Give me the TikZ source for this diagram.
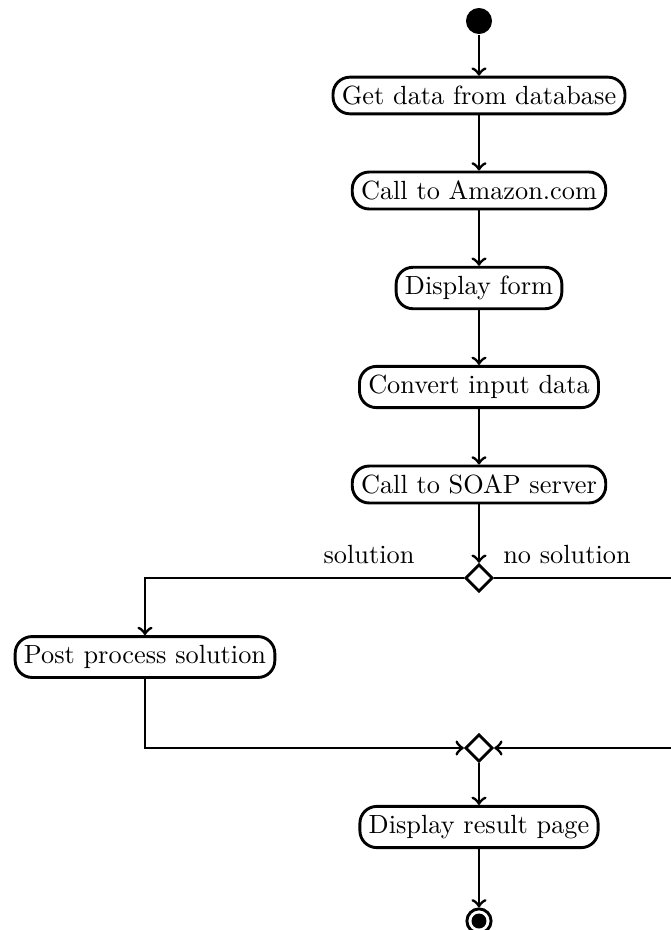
\documentclass[tikz,border=0pt]{standalone}
\usetikzlibrary{shapes.geometric}
\begin{document}
\begin{tikzpicture}[x=0.3802pt,y=-0.3802pt, line width=1.1pt,
  act/.style={draw, rounded corners=6.4pt},
  dec/.style={draw, diamond, inner sep=0pt, minimum size=10.4pt},
  flow/.style={->},
  lbl/.style={inner sep=0pt}]
\useasboundingbox (0,0) rectangle (671,930);
\node[circle, fill, inner sep=0pt, minimum size=9.9pt] (start) at (479,21) {};
\node[act] (a1) at (479,95.5) {Get data from database};
\node[act] (a2) at (479,190.5) {Call to Amazon.com};
\node[act] (a3) at (479,288) {Display form};
\node[act] (a4) at (479,387) {Convert input data};
\node[act] (a5) at (479,484.5) {Call to SOAP server};
\node[dec] (d1) at (479,578) {};
\node[act] (post) at (145,657) {Post process solution};
\node[dec] (d2) at (479,748) {};
\node[act] (a6) at (479,827) {Display result page};
\node[circle, draw, inner sep=0pt, minimum size=9.2pt] (end) at (479,921) {};
\fill (end.center) circle (2.85pt);
\node[lbl] (ls) at (369,555) {solution};
\node[lbl] (lns) at (567,555) {no solution};
\coordinate (cl1) at (145,578);
\coordinate (cl2) at (145,748);
\coordinate (cr1) at (673,578);
\coordinate (cr2) at (673,748);
\draw[flow] (start) -- (a1);
\draw[flow] (a1) -- (a2);
\draw[flow] (a2) -- (a3);
\draw[flow] (a3) -- (a4);
\draw[flow] (a4) -- (a5);
\draw[flow] (a5) -- (d1);
\draw[flow] (d1.west) -- (cl1) -- (post);
\draw[flow] (d1.east) -- (cr1) -- (cr2) -- (d2.east);
\draw[flow] (post) -- (cl2) -- (d2.west);
\draw[flow] (d2) -- (a6);
\draw[flow] (a6) -- (end);
\end{tikzpicture}
\end{document}
